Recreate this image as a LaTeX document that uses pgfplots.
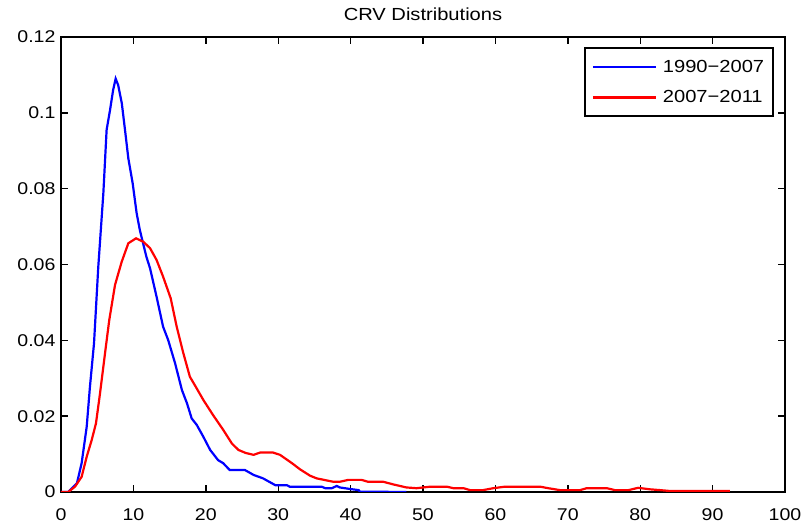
\documentclass[border=0pt]{standalone}
\usepackage{fontspec}
\setmainfont[FakeStretch=1.15]{Liberation Sans}
\usepackage{pgfplots}
\pgfplotsset{compat=1.18}
\begin{document}
\begin{tikzpicture}
\begin{axis}[
  name=ax,
  scale only axis,
  width=724pt, height=455pt,
  xmin=0, xmax=100, ymin=0, ymax=0.12,
  xtick={0,10,...,100},
  xticklabels={0,10,20,30,40,50,60,70,80,90,100},
  ytick={0,0.02,0.04,0.06,0.08,0.1,0.12},
  yticklabels={0,0.02,0.04,0.06,0.08,0.1,0.12},
  tick align=inside,
  major tick length=7pt,
  minor tick num=0,
  axis line style={line width=1.9pt},
  tick style={line width=1.4pt, black},
  ticklabel style={font=\fontsize{17}{20}\selectfont},
  xticklabel style={yshift=-13pt},
  yticklabel style={xshift=-2pt},
  title={CRV Distributions},
  title style={font=\fontsize{17.5}{20}\selectfont, yshift=7pt},
  legend style={at={(0.985,0.978)}, anchor=north east, draw=black, line width=1.9pt,
    font=\fontsize{17.5}{20}\selectfont, row sep=13pt, inner xsep=7pt, inner ysep=10pt},
  legend cell align=left,
  legend image code/.code={\draw[#1, line width=2.2pt] (0pt,0pt) -- (63pt,0pt);},
]
\addplot[blue, line width=2.2pt] coordinates {
(0,0) (1,0) (2.2,0.0023) (2.85,0.0076) (3.55,0.0172) (4.0,0.0278) (4.56,0.0392) (5.15,0.0594) (5.85,0.0788) (6.3,0.0955) (6.77,0.1007) (7.2,0.106) (7.55,0.109) (7.9,0.1073) (8.4,0.1025) (8.84,0.0955) (9.3,0.088) (9.9,0.0814) (10.45,0.0735) (10.9,0.069) (11.8,0.062) (12.3,0.059) (13.2,0.0515) (14.1,0.0436) (14.8,0.0401) (15.75,0.034) (16.7,0.0269) (17.4,0.0234) (18.05,0.0194) (18.75,0.0177) (19.65,0.0146) (20.6,0.0111) (21.7,0.0084) (22.4,0.0076) (23.3,0.0058) (25.4,0.0058) (26.6,0.0045) (27.9,0.0036) (29.6,0.0018) (31.2,0.0018) (31.6,0.0014) (36,0.0014) (36.5,0.001) (37.4,0.001) (38.1,0.0016) (38.5,0.0012) (39.9,0.0008) (41.1,0.0005) (41.3,0.0001) (47.7,0)
};
\addlegendentry{\hspace{4pt}1990−2007}
\addplot[red, line width=2.2pt] coordinates {
(0,0) (1,0) (1.93,0.0014) (2.85,0.004) (3.55,0.0093) (4.24,0.0137) (4.83,0.0181) (5.39,0.026) (6.08,0.0366) (6.67,0.0454) (7.46,0.0546) (8.38,0.0607) (9.3,0.0656) (10.36,0.0669) (11.37,0.066) (12.3,0.0643) (13.2,0.0612) (14.1,0.0568) (15.15,0.0511) (15.98,0.0436) (16.9,0.0366) (17.8,0.0304) (18.75,0.0273) (19.65,0.0243) (21.0,0.0203) (22.4,0.0164) (23.6,0.0128) (24.5,0.0111) (25.5,0.0103) (26.6,0.0098) (27.5,0.0104) (29.3,0.0104) (30.25,0.0098) (31.9,0.0076) (33.0,0.006) (34.4,0.0043) (35.3,0.0036) (37.6,0.0027) (38.5,0.0027) (39.7,0.0032) (41.5,0.0032) (42.4,0.0027) (44.5,0.0027) (45.9,0.002) (47.7,0.0012) (49.1,0.001) (51.0,0.0014) (53.3,0.0014) (54.2,0.001) (55.6,0.001) (56.5,0.0005) (58.3,0.0005) (59.7,0.001) (61.3,0.0014) (66.2,0.0014) (67.3,0.001) (68.9,0.0005) (71.7,0.0005) (72.6,0.001) (75.4,0.001) (76.5,0.0005) (78.4,0.0005) (79.7,0.0011) (81.4,0.0007) (82.7,0.0005) (83.9,0.0003) (92.4,0.0003)
};
\addlegendentry{\hspace{4pt}2007−2011}
\end{axis}
\pgfresetboundingbox
\path ([xshift=-61pt,yshift=-32pt]ax.south west) rectangle ([xshift=21pt,yshift=37pt]ax.north east);
\end{tikzpicture}
\end{document}
